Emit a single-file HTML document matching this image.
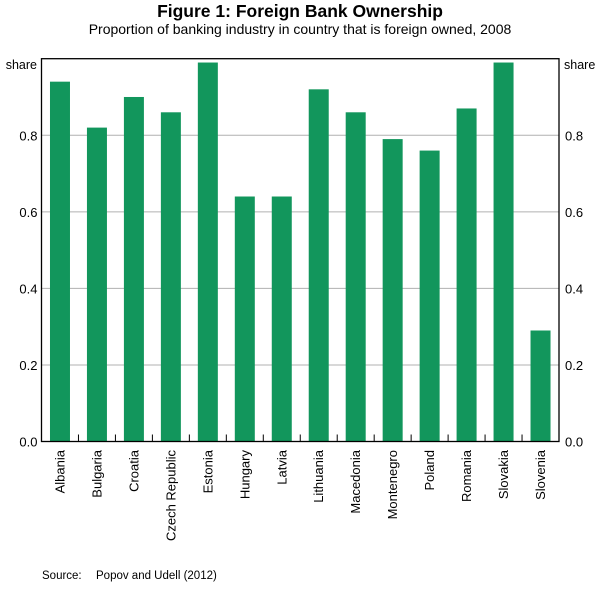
<!DOCTYPE html>
<html><head><meta charset="utf-8"><style>
body{margin:0;background:#fff;font-family:"Liberation Sans",sans-serif;}
svg text{font-family:"Liberation Sans",sans-serif;fill:#000;}
</style></head><body>
<svg width="600" height="584">
<text x="300" y="17" text-anchor="middle" font-size="17.5" font-weight="bold">Figure 1: Foreign Bank Ownership</text>
<text x="300" y="34" text-anchor="middle" font-size="14">Proportion of banking industry in country that is foreign owned, 2008</text>
<g id="grid"></g><g id="bars"></g><g id="axes"></g>
<text x="37" y="69" text-anchor="end" font-size="12.5">share</text>
<text x="564" y="69" font-size="12.5">share</text>
<text x="42" y="579" font-size="11.5" fill="#333">Source:</text>
<text x="96" y="579" font-size="11.5">Popov and Udell (2012)</text>
</svg>
<script>
const categories=["Albania","Bulgaria","Croatia","Czech Republic","Estonia","Hungary","Latvia","Lithuania","Macedonia","Montenegro","Poland","Romania","Slovakia","Slovenia"];
const values=[0.94,0.82,0.90,0.86,0.99,0.64,0.64,0.92,0.86,0.79,0.76,0.87,0.99,0.29];
const yTicks=[0,0.2,0.4,0.6,0.8];
const yTickLabels=["0.0","0.2","0.4","0.6","0.8"];
const L=41.5,R=559,T=58.7,B=441.5;
const NS="http://www.w3.org/2000/svg";
const y=v=>B-(v/1.0)*(B-T);
const band=(R-L)/categories.length;
const x=i=>L+i*band;
function mk(t,a,p){const e=document.createElementNS(NS,t);for(const k in a)e.setAttribute(k,a[k]);p.appendChild(e);return e;}
const grid=document.getElementById('grid'),bars=document.getElementById('bars'),axes=document.getElementById('axes');
yTicks.forEach((t,i)=>{
 if(t>0){const g=mk('line',{x1:L,x2:R,y1:y(t),y2:y(t),stroke:'#b0b0b0','stroke-width':1},grid);
 
 }
 const a=mk('text',{x:L-4,y:y(t)+5,'text-anchor':'end','font-size':13},axes);a.textContent=yTickLabels[i];
 
 
 const b=mk('text',{x:R+6,y:y(t)+5,'font-size':13},axes);b.textContent=yTickLabels[i];
 
 
});
values.forEach((v,i)=>{
 const bw=20;
 const r=mk('rect',{x:x(i)+band/2-bw/2,y:y(v),width:bw,height:B-y(v),fill:'#12965c'},bars);
 
 
 const cx=x(i)+band/2+4.5;
 const t=mk('text',{x:cx,y:450,'text-anchor':'end','font-size':13,transform:`rotate(-90 ${cx} 450)`},axes);t.textContent=categories[i];
 
 
 if(i>0){const tk=mk('line',{x1:x(i),x2:x(i),y1:B,y2:B-7,stroke:'#000','stroke-width':1},axes);
 
 }
});
const f=mk('rect',{x:L,y:T,width:R-L,height:B-T,fill:'none',stroke:'#000','stroke-width':1.3},axes);


</script>
</body></html>
